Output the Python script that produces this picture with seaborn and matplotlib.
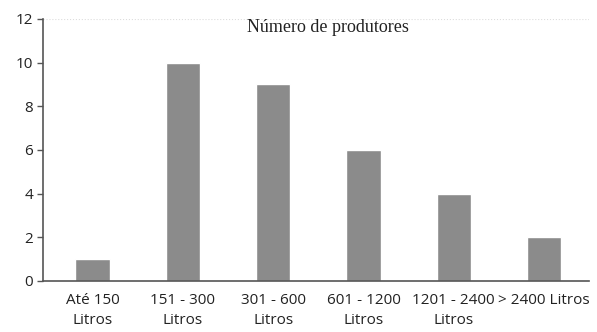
import seaborn as sns
import matplotlib.pyplot as plt

categorias = ["Até 150\nLitros", "151 - 300\nLitros", "301 - 600\nLitros",
              "601 - 1200\nLitros", "1201 - 2400\nLitros", "> 2400 Litros"]
produtores = [1, 10, 9, 6, 4, 2]

sns.set_style("white")
plt.rcParams['font.family'] = ['Open Sans', 'DejaVu Sans']

fig = plt.figure(figsize=(5.97, 3.32), dpi=100)
ax = fig.add_axes([0.072, 0.154, 0.915, 0.789])

sns.barplot(x=categorias, y=produtores, color="#8b8b8b", saturation=1,
            width=0.38, ax=ax)

ax.set_ylim(0, 12)
ax.set_yticks(range(0, 13, 2))
ax.set_xlim(-0.55, 5.5)
ax.tick_params(axis='y', length=4, width=1, color="#555555", labelsize=11, pad=3, left=True)
ax.tick_params(axis='x', length=0, labelsize=11, pad=9)
for lbl in ax.get_xticklabels() + ax.get_yticklabels():
    lbl.set_color("#222222")
    lbl.set_linespacing(1.4)

sns.despine(ax=ax, top=True, right=True)
ax.spines['left'].set_color("#555555")
ax.spines['bottom'].set_color("#555555")
ax.spines['left'].set_linewidth(1.2)
ax.spines['bottom'].set_linewidth(1.2)
ax.axhline(12, color="#dddddd", lw=0.8, ls=":")

# titulo dentro do grafico
ax.text(0.522, 0.966, "Número de produtores", transform=ax.transAxes,
        ha="center", va="center", fontsize=13, family="Liberation Serif", color="#222222")
ax.set_xlabel("")
ax.set_ylabel("")

fig.savefig("out.png", dpi=100)
